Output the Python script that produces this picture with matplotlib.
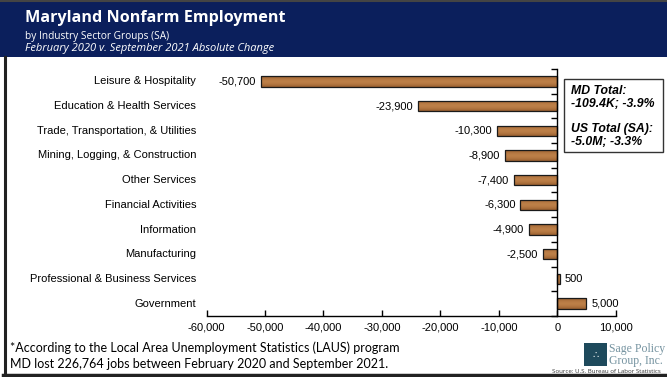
import numpy as np
import matplotlib
matplotlib.use("Agg")
import matplotlib.pyplot as plt
from matplotlib.patches import Rectangle
from matplotlib.lines import Line2D
import matplotlib.transforms as mtransforms

# ---- data ----
sectors = [
    "Leisure & Hospitality",
    "Education & Health Services",
    "Trade, Transportation, & Utilities",
    "Mining, Logging, & Construction",
    "Other Services",
    "Financial Activities",
    "Information",
    "Manufacturing",
    "Professional & Business Services",
    "Government",
]
change = [-50700, -23900, -10300, -8900, -7400, -6300, -4900, -2500, 500, 5000]
x_ticks = [-60000, -50000, -40000, -30000, -20000, -10000, 0, 10000]

title = "Maryland Nonfarm Employment"
subtitle = "by Industry Sector Groups (SA)"
subtitle2 = "February 2020 v. September 2021 Absolute Change"
box_lines = ["MD Total:", "-109.4K; -3.9%", "US Total (SA):", "-5.0M; -3.3%"]
footnote = ["*According to the Local Area Unemployment Statistics (LAUS) program",
            "MD lost 226,764 jobs between February 2020 and September 2021."]

W, H = 667, 377
fig = plt.figure(figsize=(W / 100, H / 100), dpi=100)
fig.patch.set_facecolor("white")

def fx(px):
    return px / W

def fy(py):
    return 1 - py / H

# title banner
fig.patches.append(Rectangle((0, fy(57)), 1, 1 - fy(57), transform=fig.transFigure,
                             facecolor="#0b1f5c", edgecolor="none", zorder=0))
fig.lines.append(Line2D([0, 1], [fy(1), fy(1)], transform=fig.transFigure,
                        color="#444444", lw=1.5))
fig.text(fx(25), fy(18), title, color="white", fontsize=11.6, fontweight="bold",
         family="Open Sans", va="center", ha="left")
fig.text(fx(25), fy(36), subtitle, color="white", fontsize=7.3,
         family="Open Sans", va="center", ha="left")
fig.text(fx(25), fy(49), subtitle2, color="white", fontsize=8.0, style="italic",
         family="Open Sans", va="center", ha="left")

# frame lines
fig.lines.append(Line2D([fx(4.5), fx(4.5)], [fy(57), fy(375)], transform=fig.transFigure,
                        color="#222222", lw=2.2))
fig.lines.append(Line2D([fx(3), 1], [fy(375), fy(375)], transform=fig.transFigure,
                        color="#222222", lw=2.5))

# ---- chart ----
ax = fig.add_axes([fx(206.5), fy(316), fx(615.7) - fx(206.5), fy(69) - fy(316)])
ypos = np.arange(len(sectors))
bars = ax.barh(ypos, change, height=0.42, color="#a0622c", edgecolor="#1a1a1a",
               linewidth=0.9, zorder=3)

# wood-like shading inside each bar
rows = 32
t = np.linspace(0, 1, rows)
shade = 0.45 + 0.55 * np.sin(np.pi * t)
base = np.array([0.48, 0.27, 0.11])
light = np.array([0.74, 0.50, 0.28])
wood = np.zeros((rows, 2, 3))
for k, s in enumerate(shade):
    wood[k, :, :] = base + (light - base) * s
for b in bars:
    x0, y0 = b.get_x(), b.get_y()
    w, h = b.get_width(), b.get_height()
    im = ax.imshow(wood, extent=[x0, x0 + w, y0 + h, y0], aspect="auto",
                   interpolation="bilinear", zorder=3)
    im.set_clip_path(b)
    b.set_facecolor("none")
    b.set_zorder(4)

ax.set_xlim(-60000, 10000)
ax.set_ylim(9.5, -0.5)

for s in ["top", "right"]:
    ax.spines[s].set_visible(False)
ax.spines["left"].set_position(("data", 0))
ax.spines["left"].set_linewidth(1.0)
ax.spines["bottom"].set_linewidth(1.0)
ax.spines["left"].set_zorder(5)

ax.set_xticks(x_ticks)
ax.set_xticklabels([f"{v:,}" for v in x_ticks], family="Liberation Sans", fontsize=8)
ax.tick_params(axis="x", direction="in", length=4, width=1, pad=5)
ax.set_yticks(np.arange(-0.5, 9.6, 1))
ax.set_yticklabels([])
ax.tick_params(axis="y", direction="out", length=4, width=1)

# value labels
for yv, v in zip(ypos, change):
    if v < 0:
        ax.annotate(f"{v:,}", (v, yv), xytext=(-3.5, 0), textcoords="offset points",
                    ha="right", va="center", fontsize=8, family="Liberation Sans")
    else:
        ax.annotate(f"{v:,}", (v, yv), xytext=(3.5, 0), textcoords="offset points",
                    ha="left", va="center", fontsize=8, family="Liberation Sans")

# category labels, right aligned left of plot
trans = mtransforms.blended_transform_factory(fig.transFigure, ax.transData)
for yv, name in zip(ypos, sectors):
    ax.text(fx(196), yv, name, transform=trans, ha="right", va="center",
            fontsize=8, family="Liberation Sans", clip_on=False)

# totals box
fig.patches.append(Rectangle((fx(564), fy(152)), fx(663) - fx(564), fy(79) - fy(152),
                             transform=fig.transFigure, facecolor="white",
                             edgecolor="#333333", lw=1.0, zorder=6))
for py, txt in zip([91, 104, 129, 142], box_lines):
    fig.text(fx(571), fy(py), txt, fontsize=8.8, fontweight="bold", style="italic",
             family="Liberation Sans", va="center", ha="left", zorder=7)

# footnote
fig.text(fx(10), fy(348), footnote[0], fontsize=9.0, family="Lato", va="center", ha="left")
fig.text(fx(10), fy(364), footnote[1], fontsize=9.0, family="Lato", va="center", ha="left")

# logo
fig.patches.append(Rectangle((fx(584), fy(366)), fx(607) - fx(584), fy(343) - fy(366),
                             transform=fig.transFigure, facecolor="#1e4a5c",
                             edgecolor="none", zorder=6))
fig.text(fx(595.5), fy(355), "\u2234", color="white", fontsize=7, ha="center", va="center",
         family="DejaVu Sans", zorder=7)
fig.text(fx(609), fy(349), "Sage Policy", fontsize=8.5, family="Liberation Serif",
         color="#7593a0", va="center", ha="left")
fig.text(fx(609), fy(361), "Group, Inc.", fontsize=8.5, family="Liberation Serif",
         color="#7593a0", va="center", ha="left")
fig.text(fx(552), fy(371.5), "Source: U.S. Bureau of Labor Statistics", fontsize=4.4,
         family="Open Sans", color="#333333", va="center", ha="left")

fig.savefig("out.png", dpi=100)
